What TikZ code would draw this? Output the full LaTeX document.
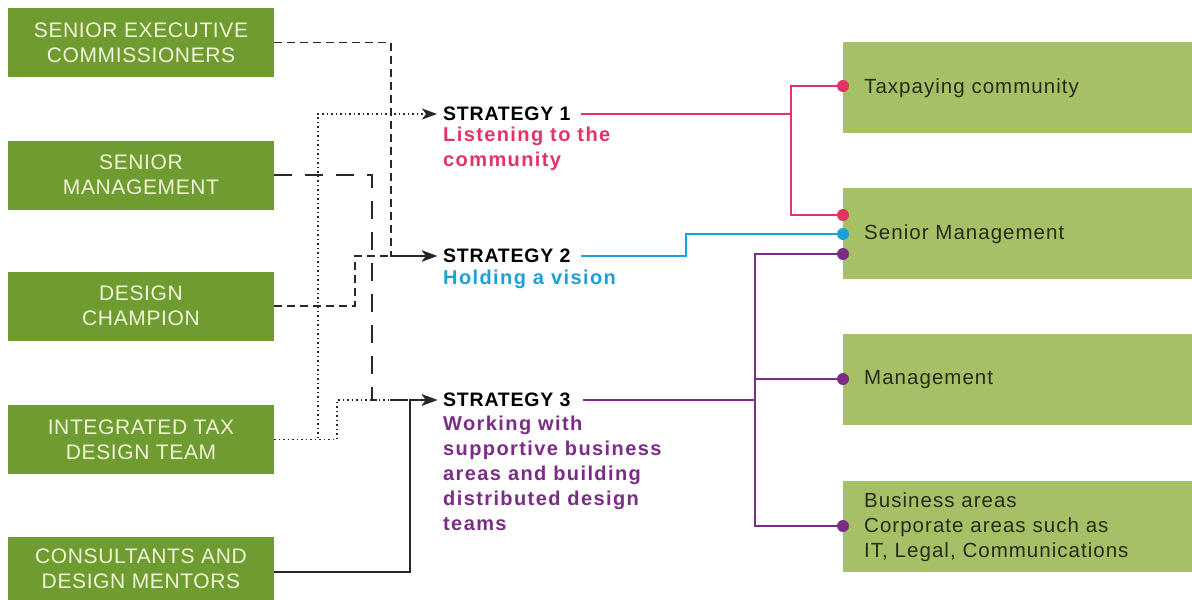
\documentclass[tikz,border=0pt]{standalone}
\usepackage{fontspec}
\setmainfont{Liberation Sans}
\newfontfamily\lboxfont[LetterSpace=3]{Liberation Sans}
\newfontfamily\stratfont[LetterSpace=4]{Liberation Sans}
\newfontfamily\descfont[LetterSpace=7]{Liberation Sans}
\newfontfamily\rboxfont[LetterSpace=5]{Liberation Sans}
\usetikzlibrary{arrows.meta}
\definecolor{lgreen}{RGB}{110,156,48}
\definecolor{rgreen}{RGB}{166,192,102}
\definecolor{lcream}{RGB}{242,245,215}
\definecolor{rtext}{RGB}{40,45,25}
\definecolor{lline}{RGB}{40,40,40}
\definecolor{cpink}{RGB}{226,52,100}
\definecolor{ccyan}{RGB}{28,160,216}
\definecolor{cpurple}{RGB}{122,44,135}
\begin{document}
\begin{tikzpicture}[x=1pt,y=-1pt,
  lbox/.style={fill=lgreen, minimum width=266pt, minimum height=69pt, inner sep=0pt, align=center, text=lcream, font=\lboxfont\fontsize{21}{25}\selectfont},
  rbox/.style={fill=rgreen, minimum width=349pt, minimum height=91pt, inner xsep=21pt, inner ysep=0pt, text width=307pt, align=left, text=rtext, font=\rboxfont\fontsize{20.5}{25}\selectfont, anchor=north west},
  stitle/.style={anchor=west, inner xsep=6pt, inner ysep=0pt, text=black, font=\stratfont\bfseries\fontsize{19.5}{25}\selectfont},
  sdesc/.style={anchor=north west, inner sep=0pt, align=left, font=\descfont\bfseries\fontsize{20}{25}\selectfont},
  conn/.style={line width=1.6pt, draw=lline, -{Stealth[length=15pt,width=11pt,inset=4pt]}},
  dashA/.style={conn, dash pattern=on 8pt off 5pt},
  dashB/.style={conn, dash pattern=on 18pt off 13pt},
  dotl/.style={conn, dash pattern=on 1.5pt off 3pt},
  rl/.style={line width=1.6pt},
  dot/.style={circle, inner sep=0pt, minimum size=12pt},
  ]
\useasboundingbox (0,0) rectangle (1192,600);
\fill[white] (0,0) rectangle (1192,600);

% left boxes
\node[lbox] (sec) at (141,42.5) {SENIOR EXECUTIVE\\COMMISSIONERS};
\node[lbox] (sm) at (141,175) {SENIOR\\MANAGEMENT};
\node[lbox] (dc) at (141,306) {DESIGN\\CHAMPION};
\node[lbox] (itd) at (141,439.5) {INTEGRATED TAX\\DESIGN TEAM};
\node[lbox, minimum height=63pt] (cdm) at (141,568.5) {CONSULTANTS AND\\DESIGN MENTORS};

% strategies
\node[stitle] (s1) at (437,114) {STRATEGY 1};
\node[sdesc, text=cpink] (s1d) at (443,127) {Listening to the\\community};
\node[stitle] (s2) at (437,256) {STRATEGY 2};
\node[sdesc, text=ccyan] (s2d) at (443,269.5) {Holding a vision};
\node[stitle] (s3) at (437,400) {STRATEGY 3};
\node[sdesc, text=cpurple] (s3d) at (443,415.5) {Working with\\supportive business\\areas and building\\distributed design\\teams};

% right boxes
\node[rbox] (tax) at (843,42) {Taxpaying community};
\node[rbox] (smr) at (843,188) {Senior Management};
\node[rbox] (mgt) at (843,334) {Management};
\node[rbox] (bus) at (843,481) {Business areas\\Corporate areas such as\\IT, Legal, Communications};

% junction coordinates
\coordinate (v1) at (391,0);
\coordinate (v2) at (372,0);
\coordinate (v3) at (355,0);
\coordinate (v4) at (410,0);
\coordinate (d1) at (318,0);
\coordinate (d2) at (337,0);
\coordinate (jp) at (791,0);
\coordinate (jc) at (686,0);
\coordinate (jq) at (755,0);

% left connectors
\draw[dashA] (sec.east) -| (v1 |- s2.west) -- (s2.west);
\draw[dashB] (sm.east) -| (v2 |- s3.west) -- (s3.west);
\draw[dashA] (dc.east) -| (v3 |- s2.west) -- (s2.west);
\draw[dotl] (itd.east) -| (d1 |- s1.west) -- (s1.west);
\draw[dotl] (itd.east) -| (d2 |- s3.west) -- (s3.west);
\draw[conn] ([yshift=-3.5pt]cdm.east) -| (v4 |- s3.west) -- (s3.west);

% dots
\node[dot, fill=cpink] (dA) at (843,86) {};
\node[dot, fill=cpink] (dB1) at (843,215) {};
\node[dot, fill=ccyan] (dB2) at (843,234) {};
\node[dot, fill=cpurple] (dB3) at (843,254) {};
\node[dot, fill=cpurple] (dC) at (843,379) {};
\node[dot, fill=cpurple] (dD) at (843,526) {};

% right connectors
\draw[rl, cpink] ([xshift=4pt]s1.east) -| (jp |- dA) -- (dA);
\draw[rl, cpink] ([xshift=4pt]s1.east) -| (jp |- dB1) -- (dB1);
\draw[rl, ccyan] ([xshift=4pt]s2.east) -| (jc |- dB2) -- (dB2);
\draw[rl, cpurple] ([xshift=6pt]s3.east) -| (jq |- dB3) -- (dB3);
\draw[rl, cpurple] ([xshift=6pt]s3.east) -| (jq |- dC) -- (dC);
\draw[rl, cpurple] ([xshift=6pt]s3.east) -| (jq |- dD) -- (dD);
\end{tikzpicture}
\end{document}
